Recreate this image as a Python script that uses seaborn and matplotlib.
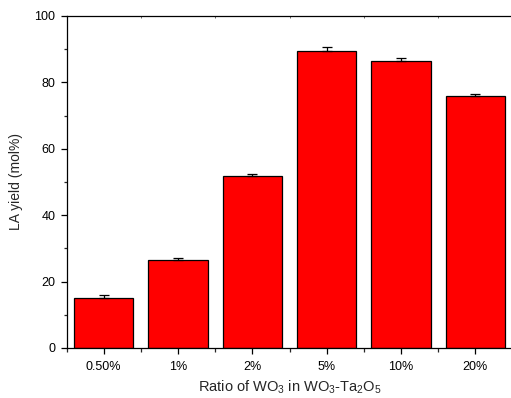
import numpy as np
import pandas as pd
import matplotlib
matplotlib.use("Agg")
import matplotlib.pyplot as plt
import seaborn as sns
from matplotlib.ticker import MultipleLocator, FixedLocator, NullLocator

ratios = ['0.50%', '1%', '2%', '5%', '10%', '20%']
yield_la = [15.2, 26.4, 51.7, 89.6, 86.4, 75.9]
yield_err = [0.9, 0.8, 0.6, 1.2, 0.9, 0.7]

df = pd.DataFrame({'ratio': ratios, 'yield': yield_la})

sns.set_style("ticks")
plt.rcParams['font.family'] = ['Liberation Sans', 'DejaVu Sans']
plt.rcParams['mathtext.fontset'] = 'custom'
plt.rcParams['mathtext.rm'] = 'Liberation Sans'
plt.rcParams['mathtext.it'] = 'Liberation Sans:italic'

fig = plt.figure(figsize=(5.11, 3.98), dpi=100)
# the frame runs past the right edge of the picture, as in the original
ax = fig.add_axes([66.5 / 511, 50 / 398, 446 / 511, 332 / 398])

sns.barplot(data=df, x='ratio', y='yield', color='#ff0000', saturation=1,
            width=0.8, edgecolor='black', linewidth=0.9, ax=ax)
ax.errorbar(np.arange(len(ratios)), yield_la,
            yerr=[np.zeros(len(ratios)), yield_err],
            fmt='none', ecolor='black', elinewidth=0.9, capsize=3.5, capthick=0.9)

ax.set_xlim(-0.5, 5.5)
ax.set_ylim(0, 100)
ax.yaxis.set_major_locator(MultipleLocator(20))
ax.yaxis.set_minor_locator(MultipleLocator(10))
ax.xaxis.set_minor_locator(FixedLocator(np.arange(-0.5, 6, 1.0)))

for s in ax.spines.values():
    s.set_color('black')
    s.set_linewidth(0.9)
ax.spines['right'].set_visible(False)

ax.tick_params(axis='both', which='major', direction='out', length=4.5, width=0.9,
               labelsize=9, colors='black', top=False, right=False)
ax.tick_params(axis='x', which='major', pad=5)
ax.tick_params(axis='y', which='minor', direction='out', length=2.5, width=0.9)
ax.tick_params(axis='x', which='minor', direction='out', length=3, width=0.9,
               top=False, bottom=True)

# small inward ticks on the top frame at the category boundaries
top = ax.secondary_xaxis('top')
top.xaxis.set_major_locator(FixedLocator(np.arange(-0.5, 6, 1.0)))
top.xaxis.set_minor_locator(NullLocator())
top.tick_params(direction='in', length=1.5, width=0.6, labeltop=False, colors='0.3')
top.spines['top'].set_visible(False)

ax.set_xlabel('Ratio of WO$_3$ in WO$_3$-Ta$_2$O$_5$', fontsize=10.5, labelpad=4)
ax.set_ylabel('LA yield (mol%)', fontsize=10, labelpad=8)

fig.savefig('out.png', dpi=100)
